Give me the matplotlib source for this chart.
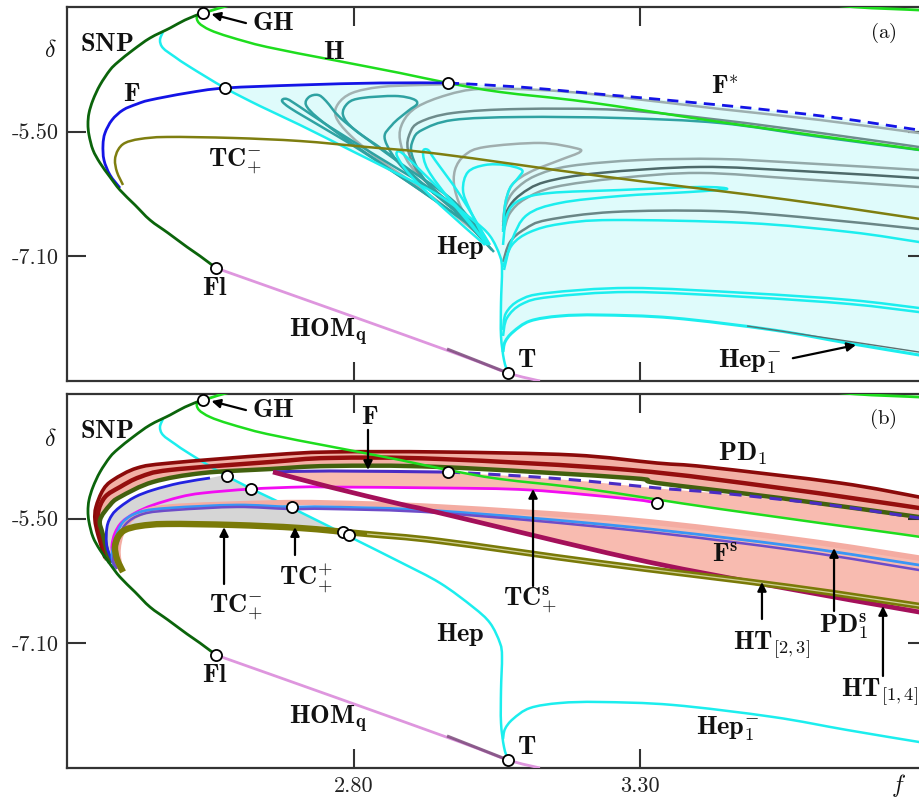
import numpy as np
import matplotlib
matplotlib.use('Agg')
import matplotlib.pyplot as plt
from matplotlib.path import Path
from matplotlib.patches import PathPatch

plt.rcParams['mathtext.fontset'] = 'cm'

# ---------------- shared curves (f, delta) ----------------
snp_f = [2.5355, 2.5058, 2.4797, 2.4448, 2.4151, 2.3890, 2.3750, 2.3576, 2.3453, 2.3384, 2.3366,
         2.3384, 2.3453, 2.3576, 2.3750, 2.3924, 2.4186, 2.4448, 2.4762, 2.5093, 2.5320, 2.5599]
snp_d = [-3.977, -4.067, -4.170, -4.298, -4.452, -4.606, -4.709, -4.901, -5.094, -5.260, -5.402,
         -5.543, -5.735, -5.902, -6.082, -6.249, -6.441, -6.634, -6.800, -6.980, -7.096, -7.250]

hom_f = [2.5599, 2.7762, 2.9855, 3.0692, 3.1250]
hom_d = [-7.250, -7.814, -8.366, -8.597, -8.700]
homdark_f = [2.9628, 3.0692]
homdark_d = [-8.289, -8.597]

h_f = [2.5372, 2.5267, 2.5302, 2.5494, 2.5843, 2.6488, 2.7639, 2.8808, 2.9645, 3.0552, 3.2070,
       3.4390, 3.7529, 3.8000]
h_d = [-3.977, -4.016, -4.105, -4.195, -4.285, -4.413, -4.580, -4.747, -4.875, -4.991, -5.119,
       -5.376, -5.697, -5.748]

hup_f = [2.5372, 2.5547, 2.5721, 2.6017, 2.7064, 3.0552, 3.4041, 3.5785, 3.6745, 3.7860, 3.8000]
hup_d = [-3.977, -3.939, -3.900, -3.849, -3.707, -3.553, -3.656, -3.823, -3.900, -3.939, -3.951]

tc_f = [2.3977, 2.3872, 2.3837, 2.3890, 2.4012, 2.4273, 2.4744, 2.5895, 2.7064, 2.8233, 2.9506,
        3.2297, 3.5610, 3.8000]
tc_d = [-6.184, -6.018, -5.864, -5.735, -5.645, -5.594, -5.568, -5.581, -5.620, -5.697, -5.787,
        -6.069, -6.377, -6.634]

hep_f = [2.4674, 2.4622, 2.4674, 2.4884, 2.5145, 2.5756, 2.6366, 2.7064, 2.7936, 2.8808, 2.9506,
         3.0081, 3.0378, 3.0552, 3.0587, 3.0570, 3.0570, 3.0622, 3.0692]
hep_d = [-4.221, -4.324, -4.426, -4.542, -4.670, -4.940, -5.171, -5.414, -5.735, -6.056, -6.326,
         -6.634, -6.839, -7.096, -7.275, -7.699, -8.122, -8.430, -8.597]

hep1_f = [3.0605, 3.0640, 3.0779, 3.1076, 3.1599, 3.2297, 3.3570, 3.5314, 3.6605, 3.7860, 3.8000]
hep1_d = [-8.328, -8.199, -8.071, -7.930, -7.866, -7.853, -7.891, -8.045, -8.212, -8.366, -8.379]

# ---------------- panel (a) ----------------
fa_f = [2.3924, 2.3750, 2.3645, 2.3628, 2.3663, 2.3785, 2.3977, 2.4221, 2.4448, 2.5093, 2.5756,
        2.7064, 2.8459, 2.9645]
fa_d = [-6.223, -6.056, -5.864, -5.671, -5.517, -5.350, -5.222, -5.145, -5.094, -5.004, -4.940,
        -4.901, -4.875, -4.875]
fstar_f = [2.9645, 3.0901, 3.2070, 3.4390, 3.6308, 3.7860, 3.8000]
fstar_d = [-4.875, -4.927, -5.004, -5.158, -5.312, -5.479, -5.491]

l1_f = [3.0029, 2.9157, 2.8110, 2.7238, 2.6890, 2.6750, 2.6837, 2.7064, 2.7587, 2.8459, 2.9506, 3.0029]
l1_d = [-6.698, -6.249, -5.735, -5.350, -5.196, -5.106, -5.081, -5.183, -5.440, -5.838, -6.313, -6.659]
l2_f = [3.0116, 2.8983, 2.7936, 2.7378, 2.7169, 2.7221, 2.7378, 2.7517, 2.7849, 2.8808, 2.9680, 3.0134]
l2_d = [-6.736, -6.159, -5.633, -5.325, -5.158, -5.055, -5.029, -5.106, -5.376, -5.902, -6.351, -6.711]
l3_f = [3.0203, 2.9331, 2.8634, 2.8023, 2.7814, 2.7901, 2.8145, 2.8721, 2.9035, 2.9105, 2.8948,
        2.8669, 2.8547, 2.8895, 2.9680, 3.0238]
l3_d = [-6.788, -6.249, -5.799, -5.479, -5.286, -5.132, -5.068, -5.042, -5.081, -5.145, -5.235,
        -5.414, -5.607, -5.992, -6.441, -6.788]
g1_f = [3.0291, 2.9331, 2.8459, 2.7936, 2.7692, 2.7727, 2.7971, 2.8459, 2.9157, 3.0029]
g1_d = [-6.890, -6.313, -5.864, -5.543, -5.312, -5.145, -5.004, -4.927, -4.901, -4.888]
g2_f = [3.0326, 2.9506, 2.8983, 2.8808, 2.8860, 2.9105, 2.9628, 3.0203, 3.1250, 3.2297, 3.4390,
        3.6134, 3.7860, 3.8000]
g2_d = [-6.916, -6.313, -5.928, -5.607, -5.376, -5.183, -5.029, -4.952, -4.965, -5.029, -5.209,
        -5.350, -5.517, -5.530]
d1_f = [3.0413, 2.9680, 2.9157, 2.8948, 2.8983, 2.9157, 2.9733, 3.0901, 3.2645, 3.4390, 3.6134,
        3.7860, 3.8000]
d1_d = [-7.019, -6.441, -6.056, -5.735, -5.517, -5.376, -5.260, -5.209, -5.222, -5.350, -5.517,
        -5.697, -5.710]
t1_f = [3.0448, 2.9767, 2.9244, 2.9017, 2.9035, 2.9192, 2.9733, 3.0901, 3.2645, 3.4390, 3.6134,
        3.7860, 3.8000]
t1_d = [-7.044, -6.505, -6.120, -5.799, -5.607, -5.479, -5.350, -5.312, -5.325, -5.389, -5.568,
        -5.735, -5.748]
gl_f = [3.0291, 2.9942, 2.9767, 2.9767, 2.9942, 3.0291, 3.1250, 3.1861, 3.1948, 3.1599, 3.1076,
        3.0762, 3.0640, 3.0605]
gl_d = [-6.890, -6.569, -6.249, -5.992, -5.799, -5.697, -5.645, -5.710, -5.761, -5.864, -6.018,
        -6.184, -6.441, -6.762]
cl_f = [3.0308, 3.0029, 2.9907, 2.9994, 3.0291, 3.0640, 3.0936, 3.0866, 3.0727, 3.0640, 3.0605]
cl_d = [-6.916, -6.505, -6.249, -6.018, -5.928, -5.928, -5.992, -6.095, -6.223, -6.441, -6.788]
ct_f = [3.0605, 3.0674, 3.0901, 3.1424, 3.2645, 3.4041, 3.4512, 3.3866, 3.2645, 3.1599, 3.1023,
        3.0762, 3.0622]
ct_d = [-6.954, -6.569, -6.377, -6.287, -6.249, -6.210, -6.236, -6.274, -6.326, -6.415, -6.569,
        -6.890, -7.275]
m1_f = [3.0605, 3.0657, 3.0814, 3.1163, 3.1773, 3.2994, 3.4390, 3.5785, 3.7860, 3.8000]
m1_d = [-6.659, -6.441, -6.249, -6.069, -5.941, -5.864, -5.851, -5.902, -5.992, -6.005]
m2_f = [3.0605, 3.0692, 3.0901, 3.1337, 3.2297, 3.4041, 3.5785, 3.7860, 3.8000]
m2_d = [-6.711, -6.492, -6.313, -6.146, -6.030, -5.953, -6.005, -6.095, -6.108]
m3_f = [3.0622, 3.0727, 3.0988, 3.1512, 3.2645, 3.4041, 3.5785, 3.7860, 3.8000]
m3_d = [-6.762, -6.544, -6.364, -6.210, -6.095, -6.030, -6.108, -6.210, -6.223]
d2_f = [3.0605, 3.0727, 3.0988, 3.1372, 3.2523, 3.4268, 3.5785, 3.7860, 3.8000]
d2_d = [-7.173, -6.916, -6.749, -6.634, -6.531, -6.518, -6.595, -6.749, -6.762]
c2_f = [3.0605, 3.0762, 3.1076, 3.1599, 3.2523, 3.4861, 3.6657, 3.7860, 3.8000]
c2_d = [-7.237, -6.954, -6.788, -6.685, -6.634, -6.672, -6.788, -6.916, -6.929]
c3_f = [3.0605, 3.0657, 3.0901, 3.1372, 3.2820, 3.4861, 3.6657, 3.7860, 3.8000]
c3_d = [-8.045, -7.827, -7.660, -7.571, -7.506, -7.571, -7.660, -7.763, -7.776]
c4_f = [3.0605, 3.0674, 3.0936, 3.1424, 3.2820, 3.4861, 3.6657, 3.7860, 3.8000]
c4_d = [-8.122, -7.891, -7.712, -7.622, -7.558, -7.622, -7.712, -7.815, -7.827]
d3_f = [3.4861, 3.6605, 3.7860, 3.8000]
d3_d = [-7.994, -8.187, -8.328, -8.341]
cf1_f = [3.0291, 2.9506, 2.8983, 2.8773, 2.8756, 2.8843, 2.9157, 2.9855, 3.0326]
cf1_d = [-6.954, -6.441, -6.056, -5.838, -5.761, -5.774, -5.992, -6.505, -6.954]
cf2_f = [3.0343, 2.9680, 2.9297, 2.9209, 2.9297, 2.9419, 2.9855, 3.0378]
cf2_d = [-6.954, -6.377, -5.992, -5.761, -5.735, -5.864, -6.313, -6.954]

pa_f = [2.5372, 2.5756, 2.9645, 2.5599, 3.0692]
pa_d = [-3.977, -4.940, -4.875, -7.250, -8.597]

# ---------------- panel (b) ----------------
red1_f = [2.3663, 2.3541, 2.3488, 2.3506, 2.3628, 2.3802, 2.4221, 2.4797, 2.6541, 2.7587, 2.9506,
          3.1826, 3.3291, 3.4163, 3.6483, 3.7860, 3.8000]
red1_d = [-6.005, -5.710, -5.517, -5.350, -5.132, -5.004, -4.850, -4.786, -4.683, -4.644, -4.644,
          -4.683, -4.786, -4.837, -5.042, -5.222, -5.248]
red2_f = [2.3698, 2.3576, 2.3541, 2.3663, 2.3924, 2.4273, 2.4797, 2.6541, 2.7587, 2.9506, 3.2820,
          3.5436, 3.7860, 3.8000]
red2_d = [-6.030, -5.645, -5.427, -5.222, -5.094, -4.965, -4.875, -4.773, -4.721, -4.734, -4.875,
          -5.106, -5.363, -5.389]
dol_f = [2.3750, 2.3628, 2.3576, 2.3750, 2.3924, 2.4500, 2.5372, 2.6541, 2.7587, 2.9506, 3.2820,
         3.3291, 3.5436, 3.7860, 3.8000]
dol_d = [-6.069, -5.710, -5.517, -5.325, -5.222, -5.029, -4.914, -4.863, -4.824, -4.837, -4.978,
         -5.042, -5.235, -5.479, -5.491]
fb_f = [2.3837, 2.3698, 2.3698, 2.3785, 2.3924, 2.4186, 2.4500, 2.4971, 2.5494]
fb_d = [-6.120, -5.864, -5.607, -5.453, -5.350, -5.222, -5.132, -5.042, -4.978]
fbs_f = [2.6593, 2.7587, 2.9506, 2.9645]
fbs_d = [-4.901, -4.888, -4.901, -4.901]
fbd_f = [2.9645, 3.0901, 3.2070, 3.3291, 3.4390, 3.6308, 3.7860, 3.8000]
fbd_d = [-4.901, -4.952, -5.017, -5.106, -5.171, -5.325, -5.491, -5.504]
mag_f = [2.3924, 2.3802, 2.3785, 2.3837, 2.3959, 2.4186, 2.4500, 2.4971, 2.5372, 2.6209, 2.7064,
         2.7587, 2.9506, 3.1076, 3.2820, 3.3291]
mag_d = [-6.159, -5.966, -5.838, -5.684, -5.543, -5.427, -5.325, -5.222, -5.171, -5.119, -5.094,
         -5.094, -5.106, -5.132, -5.248, -5.299]
pds_f = [2.3924, 2.3890, 2.3977, 2.4221, 2.4797, 2.6541, 2.7587, 2.9506, 3.2820, 3.5785, 3.7860, 3.8000]
pds_d = [-6.133, -5.902, -5.645, -5.453, -5.350, -5.299, -5.299, -5.350, -5.517, -5.774, -6.005, -6.018]
lb_f = [2.3855, 2.3785, 2.3837, 2.3977, 2.4273, 2.4797, 2.5965, 2.6890, 2.7587, 2.9506, 3.2820,
        3.5785, 3.7860, 3.8000]
lb_d = [-6.133, -5.992, -5.774, -5.543, -5.414, -5.363, -5.325, -5.350, -5.350, -5.401, -5.607,
        -5.864, -6.095, -6.108]
pu_f = [2.3872, 2.3802, 2.3872, 2.4012, 2.4326, 2.4884, 2.5965, 2.6890, 2.7587, 2.9506, 3.2820,
        3.5785, 3.7860, 3.8000]
pu_d = [-6.146, -6.030, -5.838, -5.581, -5.440, -5.389, -5.350, -5.376, -5.376, -5.427, -5.645,
        -5.915, -6.159, -6.172]
cr_f = [2.6593, 2.7587, 2.8808, 2.9506, 3.2820, 3.5122, 3.7860, 3.8000]
cr_d = [-4.901, -5.094, -5.312, -5.427, -6.005, -6.338, -6.698, -6.711]

pb_f = [2.5372, 2.5791, 2.6209, 2.6924, 2.7814, 2.7919, 2.9645, 3.3291, 2.5599, 3.0692]
pb_d = [-3.977, -4.952, -5.119, -5.350, -5.671, -5.710, -4.901, -5.299, -7.250, -8.597]

# ---------------- figure ----------------
W, H = 919, 801
fig = plt.figure(figsize=(W / 100, H / 100), dpi=100)
axa = fig.add_axes([67 / W, 1 - 381 / H, 860 / W, 374 / H])
axb = fig.add_axes([67 / W, 1 - 768 / H, 860 / W, 374 / H])

C_SNP = '#0B640B'
C_H = '#1EDD1E'
C_CY = '#1CEEEE'
C_OL = '#7E7E10'
C_HOM = '#DE96DE'
C_TEAL = '#2FA2A2'
LBL = 19


def smooth_path(x, y):
    """Smooth path through the read points (cubic Bezier segments)."""
    pts = np.column_stack([np.asarray(x, float), np.asarray(y, float)])
    n = len(pts)
    verts = [pts[0]]
    codes = [Path.MOVETO]
    for i in range(n - 1):
        p0 = pts[i - 1] if i > 0 else pts[i]
        p1, p2 = pts[i], pts[i + 1]
        p3 = pts[i + 2] if i + 2 < n else pts[i + 1]
        verts += [p1 + (p2 - p0) / 6.0, p2 - (p3 - p1) / 6.0, p2]
        codes += [Path.CURVE4] * 3
    return Path(verts, codes)


def curve(ax, x, y, color, lw, z, ls='-', alpha=1.0):
    ax.add_patch(PathPatch(smooth_path(x, y), fill=False, edgecolor=color, lw=lw,
                           linestyle=ls, zorder=z, alpha=alpha,
                           capstyle='butt', joinstyle='round'))


def setup(ax, xlabels):
    ax.set_xlim(2.3, 3.8)
    ax.set_ylim(-8.7, -3.9)
    ax.set_xticks([2.8, 3.3])
    ax.set_yticks([-5.5, -7.1])
    ax.set_yticklabels(['-5.50', '-7.10'], fontfamily='cmr10', fontsize=16)
    if xlabels:
        ax.set_xticklabels(['2.80', '3.30'], fontfamily='cmr10', fontsize=16)
    else:
        ax.set_xticklabels([])
    ax.tick_params(direction='in', length=14, width=1.5, top=True, right=True,
                   color='#333333', labelcolor='#222222', pad=6)
    for s in ax.spines.values():
        s.set_linewidth(1.6)
        s.set_color('#333333')


def common(ax):
    curve(ax, hom_f, hom_d, C_HOM, 2, 4)
    curve(ax, homdark_f, homdark_d, '#7D4E7D', 2.2, 4, alpha=0.85)
    curve(ax, snp_f, snp_d, C_SNP, 2, 5)
    curve(ax, hup_f, hup_d, C_H, 2, 4)


def lab(ax, x, y, s, size=LBL, **kw):
    ax.text(x, y, s, transform=ax.transAxes, ha='center', va='center',
            fontsize=size, color='#111111', zorder=9, **kw)


def arr(ax, p_from, p_to):
    ax.annotate('', xy=p_to, xytext=p_from, xycoords='axes fraction',
                textcoords='axes fraction',
                arrowprops=dict(arrowstyle='-|>', color='k', lw=1.6,
                                mutation_scale=13, shrinkA=0, shrinkB=0), zorder=9)


# ===== panel (a) =====
ax = axa
setup(ax, False)
fa_f_arr, fa_d_arr = np.array(fa_f), np.array(fa_d)
m = fa_f_arr >= 2.575
poly_f = np.concatenate([fa_f_arr[m], fstar_f[1:], hep1_f[::-1], hep_f[5:17][::-1]])
poly_d = np.concatenate([fa_d_arr[m], fstar_d[1:], hep1_d[::-1], hep_d[5:17][::-1]])
ax.fill(poly_f, poly_d, color='#DFFBFB', lw=0, zorder=1)

for xf, yd, c in [(g1_f, g1_d, '#A3B3B3'), (g2_f, g2_d, '#9DAFAF'), (gl_f, gl_d, '#A0AEAE'),
                  (d1_f, d1_d, '#6E8C8C'), (m1_f, m1_d, '#93A9A9'), (m3_f, m3_d, '#8FA5A5'),
                  (m2_f, m2_d, '#4E6A6A'), (d2_f, d2_d, '#6A8686')]:
    curve(ax, xf, yd, c, 1.8, 2)
for xf, yd in [(l1_f, l1_d), (l2_f, l2_d), (l3_f, l3_d), (t1_f, t1_d)]:
    curve(ax, xf, yd, C_TEAL, 1.8, 2)
for xf, yd in [(cl_f, cl_d), (ct_f, ct_d), (c2_f, c2_d), (c3_f, c3_d), (c4_f, c4_d),
               (cf1_f, cf1_d), (cf2_f, cf2_d)]:
    curve(ax, xf, yd, C_CY, 1.8, 2.5)
curve(ax, hep_f, hep_d, C_CY, 1.8, 3)
curve(ax, hep1_f, hep1_d, C_CY, 2.2, 3)
curve(ax, d3_f, d3_d, '#5A7070', 1.0, 3.1)
curve(ax, h_f, h_d, C_H, 1.8, 3.2)
curve(ax, tc_f, tc_d, C_OL, 1.8, 3.5)
curve(ax, fa_f, fa_d, '#1414E6', 2, 4)
curve(ax, fstar_f, fstar_d, '#1414E6', 2, 4, ls=(0, (4, 2.6)))
common(ax)
ax.plot(pa_f, pa_d, 'o', ms=8, mfc='white', mec='k', mew=1.3, zorder=7)

lab(ax, 0.0465, 0.901, r'$\mathbf{SNP}$')
lab(ax, 0.2395, 0.957, r'$\mathbf{GH}$')
arr(ax, (0.2081, 0.957), (0.1680, 0.981))
lab(ax, 0.3105, 0.880, r'$\mathbf{H}$')
lab(ax, 0.0756, 0.767, r'$\mathbf{F}$')
lab(ax, 0.1953, 0.586, r'$\mathbf{TC}_{+}^{-}$')
lab(ax, 0.457, 0.358, r'$\mathbf{Hep}$')
lab(ax, 0.172, 0.249, r'$\mathbf{Fl}$')
lab(ax, 0.3035, 0.131, r'$\mathbf{HOM}_{\mathbf{q}}$')
lab(ax, 0.535, 0.056, r'$\mathbf{T}$')
lab(ax, 0.765, 0.786, r'$\mathbf{F}^{*}$')
lab(ax, 0.949, 0.930, r'$\mathrm{(a)}$', size=15)
lab(ax, 0.794, 0.051, r'$\mathbf{Hep}_{\mathbf{1}}^{-}$')
arr(ax, (0.844, 0.061), (0.9174, 0.0963))
lab(ax, -0.0198, 0.885, r'$\delta$', size=17)

# ===== panel (b) =====
ax = axb
setup(ax, True)

ax.fill(np.concatenate([red1_f, dol_f[::-1]]), np.concatenate([red1_d, dol_d[::-1]]),
        color='#F2B0A5', lw=0, zorder=1)

g = np.linspace(2.6593, 3.8, 400)
fl_f = np.concatenate([fbs_f, fbd_f[1:]])
fl_d = np.concatenate([fbs_d, fbd_d[1:]])
mag_fa, mag_da = np.array(mag_f), np.array(mag_d)
mm = mag_fa > 2.6
h_fa, h_da = np.array(h_f), np.array(h_d)
hm = h_fa > 2.6
upper = np.interp(g, fl_f, fl_d)
low1 = np.maximum(np.interp(g, cr_f, cr_d), np.interp(g, mag_fa[mm], mag_da[mm]))
lower = np.where(g < 3.3291, low1, np.interp(g, h_fa[hm], h_da[hm]))
ax.fill_between(g, lower, upper, where=upper >= lower, color='#F8BBB0', lw=0, zorder=1)

pds_fa, pds_da = np.array(pds_f), np.array(pds_d)
pm = pds_fa > 2.45
g2 = np.linspace(2.8808, 3.8, 300)
up2 = np.interp(g2, pds_fa[pm], pds_da[pm])
lo2 = np.interp(g2, cr_f, cr_d)
ax.fill_between(g2, lo2, up2, where=up2 >= lo2, color='#F8BBB0', lw=0, zorder=1)

hep_fa, hep_da = np.array(hep_f), np.array(hep_d)
tc_fa, tc_da = np.array(tc_f), np.array(tc_d)
tm = tc_fa < 2.785
gp_f = np.concatenate([fb_f, hep_fa[5:9], tc_fa[tm][::-1]])
gp_d = np.concatenate([fb_d, hep_da[5:9], tc_da[tm][::-1]])
ax.fill(gp_f, gp_d, color='#D6D6D6', lw=0, zorder=1.2)

curve(ax, hep_f, hep_d, C_CY, 1.8, 3)
curve(ax, hep1_f, hep1_d, C_CY, 1.8, 3)
curve(ax, red1_f, red1_d, '#8B0A0A', 2.6, 3)
curve(ax, red2_f, red2_d, '#950E0E', 3.2, 3)
curve(ax, dol_f, dol_d, '#42600E', 3.2, 3.1)
curve(ax, fb_f, fb_d, '#2323E0', 2, 3.2)
curve(ax, fbs_f, fbs_d, '#4A2CC4', 2.2, 3.2)
curve(ax, fbd_f, fbd_d, '#4A2CC4', 2.2, 3.2, ls=(0, (4, 2.6)))
curve(ax, mag_f, mag_d, '#F20CF2', 2, 3.2)
curve(ax, h_f, h_d, C_H, 1.8, 3.3)
curve(ax, pds_f, pds_d, '#F4ACA2', 4, 3.3)
curve(ax, lb_f, lb_d, '#3A96F5', 2, 3.4)
curve(ax, pu_f, pu_d, '#6E4CC8', 1.8, 3.4)
curve(ax, cr_f, cr_d, '#A4105A', 3.4, 3.5)
curve(ax, tc_f, tc_d, '#7A7A08', 4.6, 3.6)
tcm = tc_fa > 2.75
curve(ax, tc_fa[tcm], tc_da[tcm], '#CFCF95', 0.9, 3.7)
common(ax)
ax.plot(pb_f, pb_d, 'o', ms=8, mfc='white', mec='k', mew=1.3, zorder=7)

lab(ax, 0.0465, 0.901, r'$\mathbf{SNP}$')
lab(ax, 0.2395, 0.957, r'$\mathbf{GH}$')
arr(ax, (0.2081, 0.957), (0.1680, 0.981))
lab(ax, -0.0198, 0.880, r'$\delta$', size=17)
lab(ax, 0.352, 0.9385, r'$\mathbf{F}$')
arr(ax, (0.350, 0.904), (0.350, 0.797))
lab(ax, 0.1965, 0.4305, r'$\mathbf{TC}_{+}^{-}$')
arr(ax, (0.1826, 0.492), (0.1826, 0.644))
lab(ax, 0.278, 0.508, r'$\mathbf{TC}_{+}^{+}$')
arr(ax, (0.2651, 0.5695), (0.2651, 0.644))
lab(ax, 0.457, 0.358, r'$\mathbf{Hep}$')
lab(ax, 0.172, 0.249, r'$\mathbf{Fl}$')
lab(ax, 0.3035, 0.131, r'$\mathbf{HOM}_{\mathbf{q}}$')
lab(ax, 0.535, 0.056, r'$\mathbf{T}$')
lab(ax, 0.786, 0.8396, r'$\mathbf{PD}_{\mathbf{1}}$')
lab(ax, 0.949, 0.933, r'$\mathrm{(b)}$', size=15)
lab(ax, 0.538, 0.449, r'$\mathbf{TC}_{+}^{\mathbf{s}}$')
arr(ax, (0.5419, 0.4866), (0.5419, 0.746))
lab(ax, 0.765, 0.572, r'$\mathbf{F}^{\mathbf{s}}$')
lab(ax, 0.8198, 0.329, r'$\mathbf{HT}_{[\mathbf{2},\mathbf{3}]}$')
arr(ax, (0.8081, 0.3984), (0.8081, 0.4973))
lab(ax, 0.9035, 0.377, r'$\mathbf{PD}_{\mathbf{1}}^{\mathbf{s}}$')
arr(ax, (0.8919, 0.4198), (0.8919, 0.588))
lab(ax, 0.9453, 0.203, r'$\mathbf{HT}_{[\mathbf{1},\mathbf{4}]}$')
arr(ax, (0.9488, 0.246), (0.9488, 0.433))
lab(ax, 0.7686, 0.104, r'$\mathbf{Hep}_{\mathbf{1}}^{-}$')
lab(ax, 0.967, -0.048, r'$f$', size=17)

fig.savefig('out.png', dpi=100)
